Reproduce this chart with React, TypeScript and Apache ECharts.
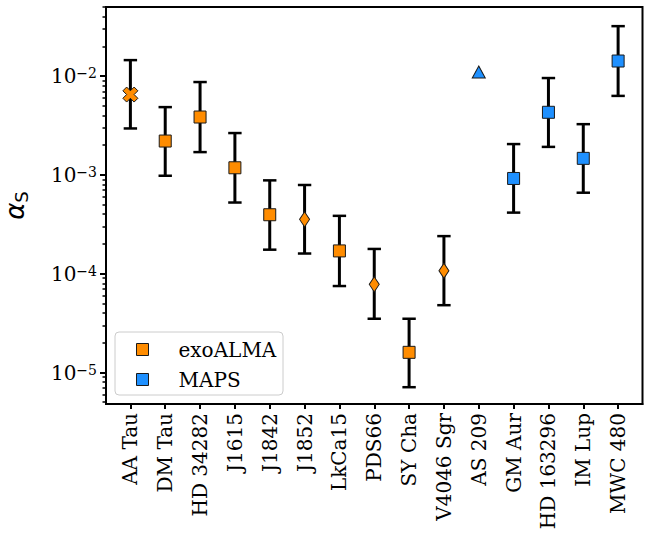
import React, { useEffect, useRef } from "react";
import * as echarts from "echarts";

// Discs and their turbulence estimates
const discs = [
  "AA Tau", "DM Tau", "HD 34282", "J1615", "J1842", "J1852", "LkCa15", "PDS66",
  "SY Cha", "V4046 Sgr", "AS 209", "GM Aur", "HD 163296", "IM Lup", "MWC 480",
];
const survey = [
  "exoALMA", "exoALMA", "exoALMA", "exoALMA", "exoALMA", "exoALMA", "exoALMA", "exoALMA",
  "exoALMA", "exoALMA", "MAPS", "MAPS", "MAPS", "MAPS", "MAPS",
];
// marker shape per disc: s = square, d = diamond, x = filled cross, ^ = triangle
const markerKind = ["x", "s", "s", "s", "s", "d", "s", "d", "s", "d", "^", "s", "s", "s", "s"];
const alphaS = [
  6.5e-3, 2.2e-3, 3.85e-3, 1.18e-3, 3.95e-4, 3.55e-4, 1.7e-4, 7.8e-5,
  1.6e-5, 1.07e-4, 1.1e-2, 9.2e-4, 4.3e-3, 1.47e-3, 1.42e-2,
];
const alphaLo = [
  2.95e-3, 9.8e-4, 1.7e-3, 5.25e-4, 1.75e-4, 1.6e-4, 7.5e-5, 3.5e-5,
  7.1e-6, 4.8e-5, null, 4.15e-4, 1.92e-3, 6.6e-4, 6.3e-3,
];
const alphaHi = [
  1.45e-2, 4.85e-3, 8.7e-3, 2.65e-3, 8.8e-4, 7.9e-4, 3.85e-4, 1.78e-4,
  3.5e-5, 2.4e-4, null, 2.05e-3, 9.55e-3, 3.26e-3, 3.2e-2,
];

const yMajorTicks = [1e-5, 1e-4, 1e-3, 1e-2];
const yMin = 4.8e-6;
const yMax = 5.0e-2;

const surveyColor: Record<string, string> = { exoALMA: "#FF8C00", MAPS: "#1E90FF" };

const SERIF = "'DejaVu Serif', serif";

// log-axis minor ticks at 2..9 x 10^n inside the visible range
const yMinorTicks: number[] = [];
for (let e = -6; e <= -1; e++) {
  for (let m = 2; m <= 9; m++) {
    const v = m * Math.pow(10, e);
    if (v >= yMin && v <= yMax) yMinorTicks.push(v);
  }
}

const crossPath =
  "path://M0,1 L1,0 L2,1 L3,0 L4,1 L3,2 L4,3 L3,4 L2,3 L1,4 L0,3 L1,2 Z";

const symbolFor: Record<string, { symbol: string; size: number | number[] }> = {
  s: { symbol: "rect", size: 12 },
  d: { symbol: "diamond", size: [10, 15] },
  x: { symbol: crossPath, size: 15 },
  "^": { symbol: "triangle", size: [13, 12] },
};

const frameLine = { show: true, onZero: false, lineStyle: { color: "#000", width: 2 } };

function buildOption() {
  const errData = discs
    .map((_, i) => [i, alphaLo[i], alphaHi[i]])
    .filter((d) => d[1] != null && d[2] != null);

  const groups: Record<string, { kind: string; survey: string; data: number[][] }> = {};
  discs.forEach((_, i) => {
    const key = survey[i] + "|" + markerKind[i];
    if (!groups[key]) groups[key] = { kind: markerKind[i], survey: survey[i], data: [] };
    groups[key].data.push([i, alphaS[i]]);
  });

  const markerSeries = Object.keys(groups).map((key) => {
    const g = groups[key];
    const sym = symbolFor[g.kind];
    return {
      type: "scatter",
      name: g.kind === "s" ? g.survey : g.survey + " " + g.kind,
      data: g.data,
      symbol: sym.symbol,
      symbolSize: sym.size,
      symbolKeepAspect: false,
      itemStyle: {
        color: surveyColor[g.survey],
        borderColor: "#1a1a1a",
        borderWidth: 1,
        opacity: 1,
      },
      z: 5,
    };
  });

  const supLabel = (v: number) => {
    const e = Math.round(Math.log10(v));
    const s = String(e).replace("-", "\u2212");
    return "{b|10}{e|" + s + "}";
  };

  return {
    animation: false,
    backgroundColor: "#ffffff",
    grid: {
      left: 106,
      right: 19.5,
      top: 7,
      bottom: 138,
      show: true,
      borderColor: "#000",
      borderWidth: 2,
      backgroundColor: "transparent",
      outerBoundsMode: "none",
    },
    xAxis: {
      type: "value",
      min: -0.7,
      max: 14.7,
      splitLine: { show: false },
      axisLine: frameLine,
      axisTick: {
        show: true,
        inside: false,
        customValues: discs.map((_, i) => i),
        length: 5,
        lineStyle: { color: "#000", width: 2 },
      },
      axisLabel: {
        customValues: discs.map((_, i) => i),
        formatter: (v: number) => discs[Math.round(v)] ?? "",
        rotate: 90,
        margin: 9,
        color: "#000",
        fontFamily: SERIF,
        fontSize: 20,
      },
    },
    yAxis: [
      {
        type: "log",
        min: yMin,
        max: yMax,
        splitLine: { show: false },
        axisLine: frameLine,
        axisTick: {
          show: true,
          inside: false,
          customValues: yMajorTicks,
          length: 6,
          lineStyle: { color: "#000", width: 2 },
        },
        axisLabel: {
          customValues: yMajorTicks,
          formatter: supLabel,
          margin: 9,
          color: "#000",
          rich: {
            b: { fontFamily: SERIF, fontSize: 20, lineHeight: 20, verticalAlign: "bottom", color: "#000" },
            e: {
              fontFamily: SERIF,
              fontSize: 14,
              lineHeight: 14,
              verticalAlign: "top",
              padding: [0, 0, 12, 0],
              color: "#000",
            },
          },
        },
        name: "{a|\u03b1}{s|S}",
        nameLocation: "middle",
        nameRotate: 90,
        nameGap: 76,
        nameTextStyle: {
          rich: {
            a: { fontFamily: "'DejaVu Sans', sans-serif", fontStyle: "italic", fontSize: 26, lineHeight: 30, color: "#000" },
            s: { fontFamily: "'DejaVu Sans', sans-serif", fontSize: 18, lineHeight: 18, verticalAlign: "bottom", color: "#000" },
          },
        },
      },
      {
        type: "log",
        min: yMin,
        max: yMax,
        position: "left",
        splitLine: { show: false },
        axisLine: frameLine,
        axisLabel: { show: false },
        axisTick: {
          show: true,
          inside: false,
          customValues: yMinorTicks,
          length: 3.5,
          lineStyle: { color: "#000", width: 1.5 },
        },
      },
    ],
    series: [
      {
        type: "custom",
        name: "errors",
        data: errData,
        encode: { x: 0, y: [1, 2] },
        z: 2,
        renderItem: (_params: any, api: any) => {
          const x = api.value(0);
          const lo = api.coord([x, api.value(1)]);
          const hi = api.coord([x, api.value(2)]);
          const cap = 6.7;
          const style = { stroke: "#000", lineWidth: 3 };
          const capStyle = { stroke: "#000", lineWidth: 2.5 };
          return {
            type: "group",
            children: [
              { type: "line", shape: { x1: hi[0], y1: hi[1], x2: lo[0], y2: lo[1] }, style },
              { type: "line", shape: { x1: hi[0] - cap, y1: hi[1], x2: hi[0] + cap, y2: hi[1] }, style: capStyle },
              { type: "line", shape: { x1: lo[0] - cap, y1: lo[1], x2: lo[0] + cap, y2: lo[1] }, style: capStyle },
            ],
          };
        },
      },
      ...markerSeries,
    ],
    graphic: [
      {
        type: "group",
        left: 114.5,
        top: 331.5,
        children: [
          {
            type: "rect",
            shape: { x: 0, y: 0, width: 168, height: 63, r: 4 },
            style: { fill: "rgba(255,255,255,0.8)", stroke: "#cccccc", lineWidth: 1 },
          },
          {
            type: "rect",
            shape: { x: 21.5, y: 11.5, width: 12, height: 12 },
            style: { fill: surveyColor.exoALMA, stroke: "#1a1a1a", lineWidth: 1 },
          },
          {
            type: "text",
            x: 63.5,
            y: 17.5,
            style: { text: "exoALMA", font: "20px " + SERIF, fill: "#000", textVerticalAlign: "middle" },
          },
          {
            type: "rect",
            shape: { x: 21.5, y: 41.5, width: 12, height: 12 },
            style: { fill: surveyColor.MAPS, stroke: "#1a1a1a", lineWidth: 1 },
          },
          {
            type: "text",
            x: 63.5,
            y: 47.5,
            style: { text: "MAPS", font: "20px " + SERIF, fill: "#000", textVerticalAlign: "middle" },
          },
        ],
      },
    ],
  };
}

export default function App() {
  const ref = useRef<HTMLDivElement | null>(null);
  useEffect(() => {
    if (!ref.current) return;
    const chart = echarts.init(ref.current, undefined, { renderer: "svg" });
    chart.setOption(buildOption() as any);
    return () => chart.dispose();
  }, []);
  return (
    <div
      ref={ref}
      style={{ position: "fixed", left: 0, top: 0, width: 662, height: 542, background: "#fff" }}
    />
  );
}
